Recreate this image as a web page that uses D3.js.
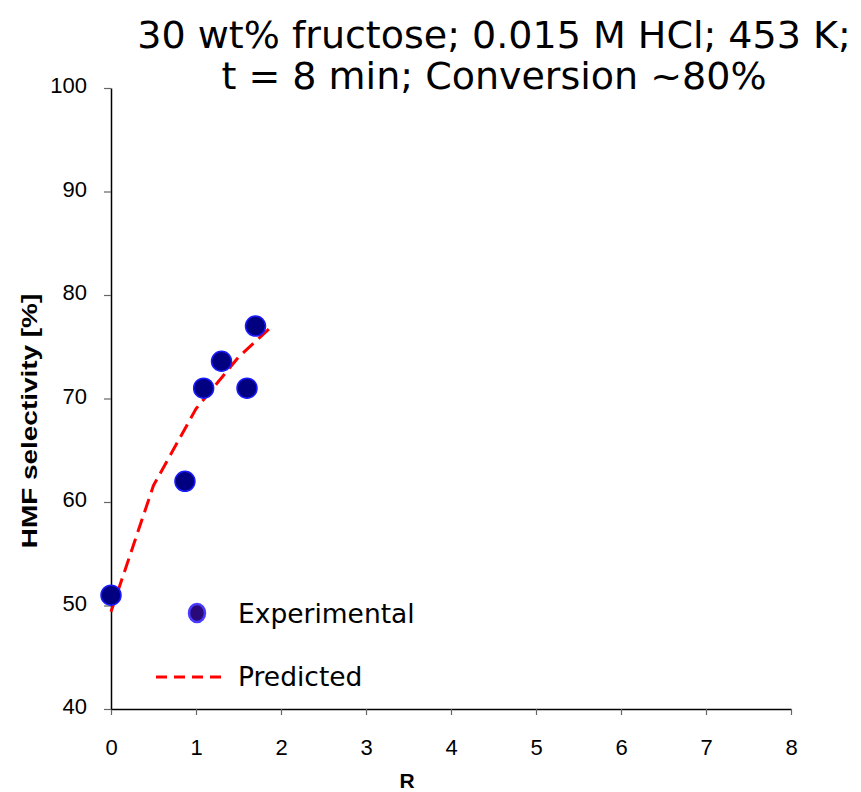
<!DOCTYPE html>
<html>
<head>
<meta charset="utf-8">
<script src="https://cdn.jsdelivr.net/npm/d3@7"></script>
<style>
  body { margin: 0; background: #fff; }
  svg { display: block; }
</style>
</head>
<body>
<script>
const width = 861;
const height = 792;
const margin = { top: 88, right: 70, bottom: 83, left: 111 };

// experimental points
const expR = [0, 0.87, 1.09, 1.30, 1.60, 1.70];
const expSel = [51, 62, 71, 73.6, 71, 77];

// model curve
const predR = [0, 0.5, 1.0, 1.5, 1.87];
const predSel = [49.4, 61.6, 69.0, 74.0, 76.8];

const xTicks = [0, 1, 2, 3, 4, 5, 6, 7, 8];
const yTicks = [40, 50, 60, 70, 80, 90, 100];

const titleLines = ["30 wt% fructose; 0.015 M HCl; 453 K;", "t = 8 min; Conversion ~80%"];
const legendLabels = ["Experimental", "Predicted"];

const svg = d3.select("body").append("svg")
  .attr("width", width)
  .attr("height", height);

const escalaX = d3.scaleLinear().domain([0, 8]).range([margin.left, width - margin.right]);
const escalaY = d3.scaleLinear().domain([40, 100]).range([height - margin.bottom, margin.top]);

// axes
const ejeX = svg.append("g")
  .attr("transform", `translate(0, ${escalaY(40)})`)
  .call(d3.axisBottom(escalaX).tickValues(xTicks).tickSize(6).tickPadding(24).tickSizeOuter(0));
const ejeY = svg.append("g")
  .attr("transform", `translate(${escalaX(0)}, 0)`)
  .call(d3.axisLeft(escalaY).tickValues(yTicks).tickSize(7).tickPadding(17).tickSizeOuter(0));

[ejeX, ejeY].forEach((g) => {
  g.select(".domain").attr("stroke", "#000").attr("stroke-width", 1.5);
  g.selectAll(".tick line").attr("stroke", "#666").attr("stroke-width", 1.2);
  g.selectAll(".tick text")
    .attr("fill", "#000")
    .style("font-family", "'Liberation Sans', Arial, sans-serif")
    .style("font-size", "22px");
});
ejeY.selectAll(".tick text").attr("dy", "0.22em");

// predicted line
const linea = d3.line().x((d) => escalaX(d[0])).y((d) => escalaY(d[1]));
svg.append("path")
  .datum(predR.map((r, i) => [r, predSel[i]]))
  .attr("d", linea)
  .attr("fill", "none")
  .attr("stroke", "#ff0000")
  .attr("stroke-width", 3)
  .attr("stroke-dasharray", "14,7");

// experimental points
svg.append("g")
  .selectAll("circle")
  .data(expR.map((r, i) => ({ r, s: expSel[i] })))
  .join("circle")
  .attr("cx", (d) => escalaX(d.r))
  .attr("cy", (d) => escalaY(d.s))
  .attr("r", 10)
  .attr("fill", "#000080")
  .attr("stroke", "#1a1aff")
  .attr("stroke-width", 1.5);

// title
svg.append("g")
  .selectAll("text")
  .data(titleLines)
  .join("text")
  .attr("x", 494)
  .attr("y", (d, i) => 48 + i * 41)
  .attr("text-anchor", "middle")
  .style("font-family", "'DejaVu Sans', Verdana, sans-serif")
  .style("font-size", "38px")
  .text((d) => d);

// axis titles
svg.append("text")
  .attr("transform", "translate(37, 421) rotate(-90) scale(1.27, 1)")
  .attr("text-anchor", "middle")
  .style("font-family", "'Liberation Sans', Arial, sans-serif")
  .style("font-weight", "bold")
  .style("font-size", "22px")
  .text("HMF selectivity [%]");
svg.append("text")
  .attr("x", 407)
  .attr("y", 788)
  .attr("text-anchor", "middle")
  .style("font-family", "'Liberation Sans', Arial, sans-serif")
  .style("font-weight", "bold")
  .style("font-size", "21px")
  .text("R");

// legend
const leyenda = svg.append("g");
leyenda.append("ellipse")
  .attr("cx", 197)
  .attr("cy", 613)
  .attr("rx", 8)
  .attr("ry", 9)
  .attr("fill", "#2a0a7a")
  .attr("stroke", "#4a3aff")
  .attr("stroke-width", 2.5);
leyenda.append("line")
  .attr("x1", 156).attr("x2", 223)
  .attr("y1", 677).attr("y2", 677)
  .attr("stroke", "#ff0000")
  .attr("stroke-width", 3)
  .attr("stroke-dasharray", "11,7");
leyenda.selectAll("text")
  .data(legendLabels)
  .join("text")
  .attr("x", 238)
  .attr("y", (d, i) => 623 + i * 63)
  .style("font-family", "'DejaVu Sans', Verdana, sans-serif")
  .style("font-size", "26.5px")
  .text((d) => d);
</script>
</body>
</html>
